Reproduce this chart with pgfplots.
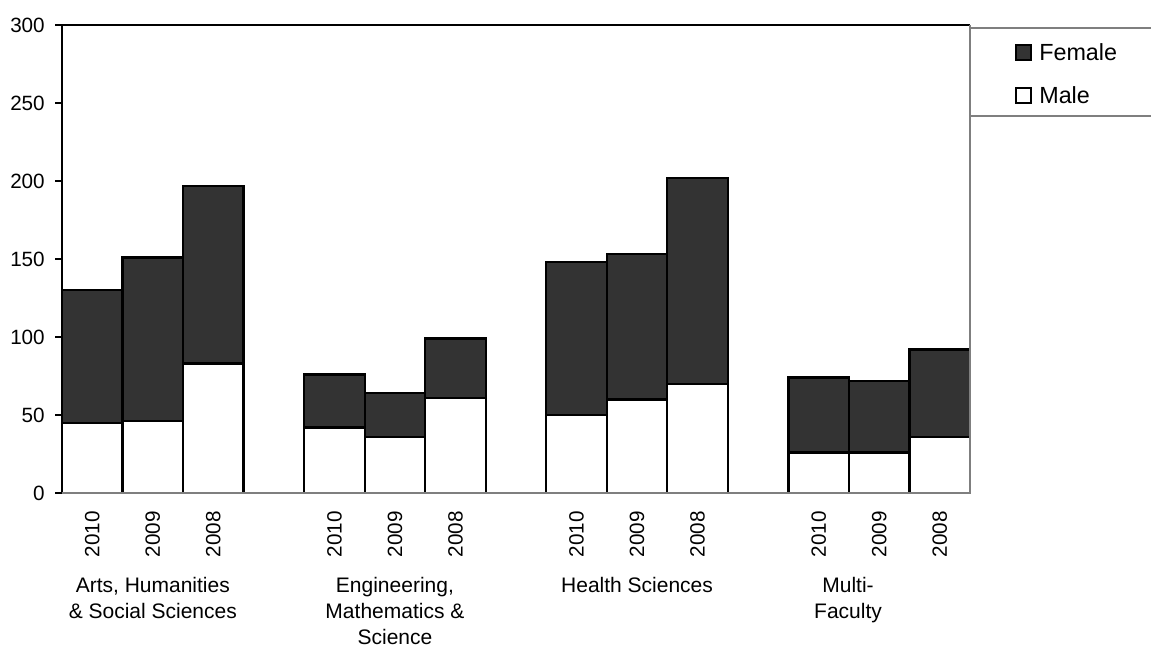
\documentclass[border=0pt]{standalone}
\usepackage{pgfplots}
\usepackage{pgfplotstable}
\pgfplotsset{compat=1.18}
\usepackage{fontspec}
\setmainfont{Liberation Sans}
\definecolor{fem}{HTML}{333333}
\definecolor{framegray}{HTML}{7F7F7F}

\pgfplotstableread{
x male female
0 45 85
1 46 105
2 83 114
4 42 34
5 36 28
6 61 38
8 50 98
9 60 93
10 70 132
12 26 48
13 26 46
14 36 56
}\datatable

\begin{document}
\begin{tikzpicture}
\begin{axis}[
  scale only axis, width=681pt, height=351pt,
  xmin=-0.5, xmax=14.5, ymin=0, ymax=300,
  ybar stacked, bar width=1,
  xtick={0,1,2,4,5,6,8,9,10,12,13,14},
  xticklabels={2010,2009,2008,2010,2009,2008,2010,2009,2008,2010,2009,2008},
  xtick style={draw=none},
  xticklabel style={rotate=90, anchor=east, inner sep=0pt, font=\fontsize{15.5}{18}\selectfont},
  xticklabel shift=8.25pt,
  ytick={0,50,...,300},
  ytick pos=left, tick align=outside, major tick length=5.25pt,
  ytick style={black, line width=0.8pt},
  yticklabel style={inner sep=0pt, font=\fontsize{15.5}{18}\selectfont},
  yticklabel shift=7.5pt,
  /pgf/number format/assume math mode=true,
  axis line style={draw=none},
  clip=false,
  legend cell align=left,
  reverse legend,
  legend image code/.code={\draw[#1, line width=1.5pt] (0pt,0pt) rectangle (11.25pt,11.25pt);},
  legend style={draw=none, fill=none, inner sep=0pt, at={(1.0496,0.9615)}, anchor=north west,
    row sep=18.75pt, column sep=5.25pt,
    nodes={inner sep=0pt, text depth=0pt, anchor=base west},
    font=\fontsize{17.5}{20}\selectfont},
]
\draw[framegray, line width=1.1pt] (rel axis cs:0,0) -- (rel axis cs:1,0) -- (rel axis cs:1,1);
\draw[black, line width=1.1pt] (rel axis cs:1,1) -- (rel axis cs:0,1) -- (rel axis cs:0,0);

\addplot[draw=black, fill=white, line width=1.7pt] table[x=x, y=male] {\datatable};
\addplot[draw=black, fill=fem, line width=1.7pt] table[x=x, y=female] {\datatable};
\legend{Male, Female}

\draw[framegray, line width=1pt] (rel axis cs:1,0.9936) -- ++(150pt,0);
\draw[framegray, line width=1pt] (rel axis cs:1,0.8056) -- ++(150pt,0);
\draw[black, line width=1pt] (rel axis cs:1,0.8056) -- (rel axis cs:1,0.9936);

\node[anchor=north, align=center, inner sep=0pt, font=\fontsize{15.75}{19.5}\selectfont, yshift=-63pt] at (axis cs:1,0) {Arts, Humanities\\\& Social Sciences};
\node[anchor=north, align=center, inner sep=0pt, font=\fontsize{15.75}{19.5}\selectfont, yshift=-63pt] at (axis cs:5,0) {Engineering,\\Mathematics \&\\Science};
\node[anchor=north, align=center, inner sep=0pt, font=\fontsize{15.75}{19.5}\selectfont, yshift=-63pt] at (axis cs:9,0) {Health Sciences};
\node[anchor=north, align=center, inner sep=0pt, font=\fontsize{15.75}{19.5}\selectfont, yshift=-63pt] at (axis cs:12.485,0) {Multi-\\Faculty};
\end{axis}
\pgfresetboundingbox
\useasboundingbox (-46.5pt,-115.5pt) rectangle (816.75pt,369.75pt);
\end{tikzpicture}
\end{document}
